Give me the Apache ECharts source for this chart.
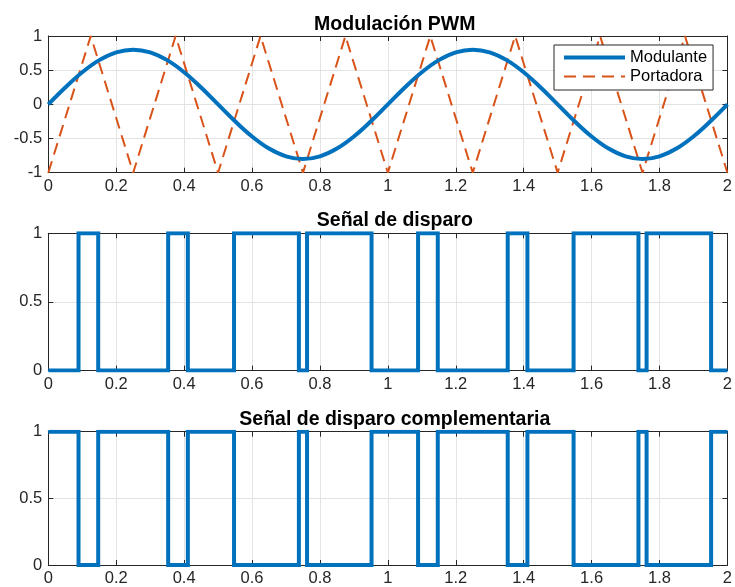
<!DOCTYPE html>
<html>
<head>
<meta charset="utf-8">
<script src="https://cdn.jsdelivr.net/npm/echarts@6/dist/echarts.min.js"></script>
<style>
  html, body { margin: 0; padding: 0; background: #fff; }
  #chart { width: 735px; height: 587px; }
</style>
</head>
<body>
<div id="chart"></div>
<script>
// Modulante (senoidal), leída cada 0.05 s
const tModulante = [0, 0.05, 0.1, 0.15, 0.2, 0.25, 0.3, 0.35, 0.4, 0.45, 0.5, 0.55, 0.6, 0.65, 0.7, 0.75, 0.8, 0.85, 0.9, 0.95,
  1, 1.05, 1.1, 1.15, 1.2, 1.25, 1.3, 1.35, 1.4, 1.45, 1.5, 1.55, 1.6, 1.65, 1.7, 1.75, 1.8, 1.85, 1.9, 1.95, 2];
const modulante = [0, 0.247, 0.47, 0.647, 0.761, 0.8, 0.761, 0.647, 0.47, 0.247, 0, -0.247, -0.47, -0.647, -0.761, -0.8, -0.761, -0.647, -0.47, -0.247,
  0, 0.247, 0.47, 0.647, 0.761, 0.8, 0.761, 0.647, 0.47, 0.247, 0, -0.247, -0.47, -0.647, -0.761, -0.8, -0.761, -0.647, -0.47, -0.247, 0];

// Portadora (triangular): vértices
const tPortadora = [0, 0.125, 0.25, 0.375, 0.5, 0.625, 0.75, 0.875, 1, 1.125, 1.25, 1.375, 1.5, 1.625, 1.75, 1.875, 2];
const portadora = [-1, 1, -1, 1, -1, 1, -1, 1, -1, 1, -1, 1, -1, 1, -1, 1, -1];

// Señal de disparo: instantes de conmutación y nivel a partir de cada instante
const tDisparo = [0, 0.089, 0.147, 0.353, 0.411, 0.547, 0.738, 0.762, 0.952, 1.089, 1.147, 1.353, 1.411, 1.547, 1.738, 1.762, 1.952, 2];
const disparo = [0, 1, 0, 1, 0, 1, 0, 1, 0, 1, 0, 1, 0, 1, 0, 1, 0, 0];
const complementaria = [1, 0, 1, 0, 1, 0, 1, 0, 1, 0, 1, 0, 1, 0, 1, 0, 1, 1];

const pair = (xs, ys) => xs.map((x, i) => [x, ys[i]]);

const AXIS = '#262626';
const GRID = '#e3e3e3';
const BLUE = '#0072BD';
const ORANGE = '#D95319';
const FONT = 'Liberation Sans, Arial, Helvetica, sans-serif';

const grids = [
  {left: 48.3, right: 3.7, top: 36, height: 136.7},
  {left: 48.3, right: 3.7, top: 233.3, height: 137.3},
  {left: 48.3, right: 3.7, top: 431.7, height: 136.6}
];
const yRanges = [[-1, 1, 0.5], [0, 1, 0.5], [0, 1, 0.5]];

const xAxes = [];
const yAxes = [];
grids.forEach((g, i) => {
  const tick = {show: true, inside: true, length: 5, lineStyle: {color: AXIS}};
  xAxes.push({
    type: 'value', gridIndex: i, min: 0, max: 2, interval: 0.2, position: 'bottom',
    axisLine: {show: true, onZero: false, lineStyle: {color: AXIS, width: 1}},
    axisTick: tick,
    axisLabel: {color: AXIS, fontSize: 16.5, fontFamily: FONT, margin: 5,
      formatter: v => String(Math.round(v * 10) / 10)},
    splitLine: {show: true, lineStyle: {color: GRID, width: 1}}
  });
  xAxes.push({
    type: 'value', gridIndex: i, min: 0, max: 2, interval: 0.2, position: 'top',
    axisLine: {show: true, onZero: false, lineStyle: {color: AXIS, width: 1}},
    axisTick: tick, axisLabel: {show: false}, splitLine: {show: false}
  });
  const r = yRanges[i];
  yAxes.push({
    type: 'value', gridIndex: i, min: r[0], max: r[1], interval: r[2], position: 'left',
    axisLine: {show: true, onZero: false, lineStyle: {color: AXIS, width: 1}},
    axisTick: tick,
    axisLabel: {color: AXIS, fontSize: 16.5, fontFamily: FONT, margin: 6},
    splitLine: {show: true, lineStyle: {color: GRID, width: 1}}
  });
  yAxes.push({
    type: 'value', gridIndex: i, min: r[0], max: r[1], interval: r[2], position: 'right',
    axisLine: {show: true, onZero: false, lineStyle: {color: AXIS, width: 1}},
    axisTick: tick, axisLabel: {show: false}, splitLine: {show: false}
  });
});

const titleStyle = {color: '#000', fontSize: 19.5, fontWeight: 'bold', fontFamily: FONT};
const chart = echarts.init(document.getElementById('chart'), null, {renderer: 'canvas'});
chart.setOption({
  animation: false,
  backgroundColor: '#fff',
  title: [
    {text: 'Modulación PWM', left: 389.8, top: 9.5, textAlign: 'center', textStyle: titleStyle},
    {text: 'Señal de disparo', left: 389.8, top: 206, textAlign: 'center', textStyle: titleStyle},
    {text: 'Señal de disparo complementaria', left: 389.8, top: 404.5, textAlign: 'center', textStyle: titleStyle}
  ],
  legend: {
    left: 554, top: 45, orient: 'vertical',
    padding: [4, 6, 5, 8], itemGap: 2, itemWidth: 61, itemHeight: 16,
    borderColor: AXIS, borderWidth: 1, backgroundColor: '#fff',
    itemStyle: {color: 'transparent', borderColor: 'transparent', borderWidth: 0},
    textStyle: {color: '#000', fontSize: 16.5, fontFamily: FONT},
    data: [
      {name: 'Modulante', lineStyle: {color: BLUE, width: 4}},
      {name: 'Portadora', lineStyle: {color: ORANGE, width: 2, type: [12, 7]}}
    ]
  },
  grid: grids,
  xAxis: xAxes,
  yAxis: yAxes,
  series: [
    {
      name: 'Modulante', type: 'line', xAxisIndex: 0, yAxisIndex: 0,
      data: pair(tModulante, modulante), smooth: 0.4, showSymbol: false, symbol: 'none',
      lineStyle: {color: BLUE, width: 4}, itemStyle: {color: BLUE}, z: 3
    },
    {
      name: 'Portadora', type: 'line', xAxisIndex: 0, yAxisIndex: 0,
      data: pair(tPortadora, portadora), showSymbol: false, symbol: 'none',
      lineStyle: {color: ORANGE, width: 2, type: [12, 7]}, itemStyle: {color: ORANGE}, z: 2
    },
    {
      name: 'disparo', type: 'line', xAxisIndex: 2, yAxisIndex: 2, step: 'end',
      data: pair(tDisparo, disparo), showSymbol: false, symbol: 'none',
      lineStyle: {color: BLUE, width: 4, join: 'miter', cap: 'butt'}
    },
    {
      name: 'complementaria', type: 'line', xAxisIndex: 4, yAxisIndex: 4, step: 'end',
      data: pair(tDisparo, complementaria), showSymbol: false, symbol: 'none',
      lineStyle: {color: BLUE, width: 4, join: 'miter', cap: 'butt'}
    }
  ]
});
</script>
</body>
</html>
